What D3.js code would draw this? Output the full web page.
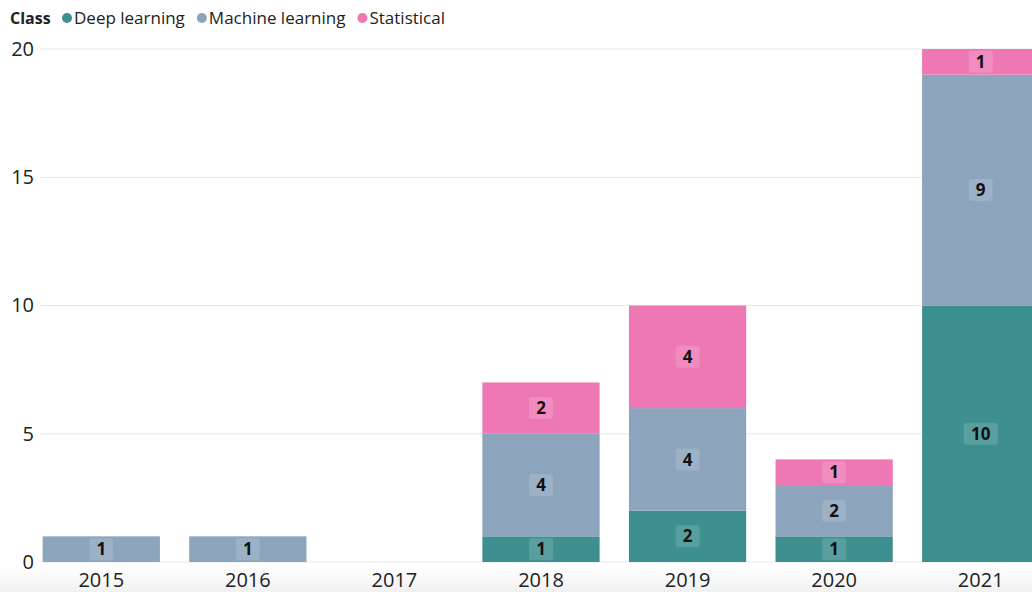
<!DOCTYPE html>
<html>
<head>
<meta charset="utf-8">
<style>
  body { margin: 0; background: #fff; }
  svg { display: block; font-family: "Open Sans", "Noto Sans", sans-serif; }
</style>
</head>
<body>
<div id="chart"></div>
<script src="https://cdn.jsdelivr.net/npm/d3@7"></script>
<script>
var years = ['2015', '2016', '2017', '2018', '2019', '2020', '2021'];
var classes = ['Deep learning', 'Machine learning', 'Statistical'];
var deep = [0, 0, 0, 1, 2, 1, 10];
var machine = [1, 1, 0, 4, 4, 2, 9];
var statistical = [0, 0, 0, 2, 4, 1, 1];
var yTicks = [0, 5, 10, 15, 20];

var width = 1032, height = 592;

var clr = d3.scaleOrdinal()
    .domain(classes)
    .range(['#3e8f8f', '#8ca4bc', '#ee78b4']);

var rows = years.map(function(y, i) {
    return { year: y, 'Deep learning': deep[i], 'Machine learning': machine[i], 'Statistical': statistical[i] };
});
var stacked = d3.stack().keys(classes)(rows);

var svg = d3.select('#chart').append('svg')
    .attr('width', width)
    .attr('height', height);

// faint shading under the axis
var grad = svg.append('defs').append('linearGradient')
    .attr('id', 'shade').attr('x1', 0).attr('y1', 0).attr('x2', 0).attr('y2', 1);
grad.append('stop').attr('offset', 0).attr('stop-color', '#fff');
grad.append('stop').attr('offset', 1).attr('stop-color', '#f1f1f1');
svg.append('rect').attr('x', 0).attr('y', 566).attr('width', width).attr('height', 26)
    .attr('fill', 'url(#shade)');

var x = d3.scaleBand()
    .domain(years)
    .range([28, 1054])
    .paddingInner(0.2)
    .paddingOuter(0.1);

var y = d3.scaleLinear()
    .domain([0, 20])
    .range([562, 49]);

// gridlines
svg.append('g').selectAll('line')
    .data(yTicks)
    .enter().append('line')
    .attr('x1', 40).attr('x2', width)
    .attr('y1', function(d) { return y(d); })
    .attr('y2', function(d) { return y(d); })
    .attr('stroke', '#e8e8e8')
    .attr('stroke-width', 1);

// y axis labels
var yAxis = svg.append('g')
    .attr('transform', 'translate(34,0)')
    .call(d3.axisLeft(y).tickValues(yTicks).tickSize(0).tickPadding(0));
yAxis.select('.domain').remove();
yAxis.selectAll('text')
    .attr('font-size', 20)
    .attr('fill', '#222')
    .attr('font-family', '"Open Sans", "Noto Sans", sans-serif');

// x axis labels
var xAxis = svg.append('g')
    .attr('transform', 'translate(0,568)')
    .call(d3.axisBottom(x).tickSize(0).tickPadding(0));
xAxis.select('.domain').remove();
xAxis.selectAll('text')
    .attr('font-size', 20)
    .attr('fill', '#222')
    .attr('dy', '0.95em')
    .attr('font-family', '"Open Sans", "Noto Sans", sans-serif');

// bars
var layer = svg.append('g').selectAll('g')
    .data(stacked)
    .enter().append('g')
    .attr('fill', function(d) { return clr(d.key); });

layer.selectAll('rect')
    .data(function(d) { return d; })
    .enter().append('rect')
    .attr('x', function(d) { return x(d.data.year); })
    .attr('y', function(d) { return y(d[1]); })
    .attr('width', x.bandwidth())
    .attr('height', function(d) { return y(d[0]) - y(d[1]); });

// data labels
var labels = [];
stacked.forEach(function(s) {
    s.forEach(function(d) {
        var v = d[1] - d[0];
        if (v > 0) labels.push({ year: d.data.year, mid: (d[0] + d[1]) / 2, v: v });
    });
});

var lab = svg.append('g').selectAll('g')
    .data(labels)
    .enter().append('g')
    .attr('transform', function(d) {
        return 'translate(' + (x(d.year) + x.bandwidth() / 2) + ',' + y(d.mid) + ')';
    });

lab.append('rect')
    .attr('x', function(d) { return d.v >= 10 ? -17 : -12; })
    .attr('y', -11)
    .attr('width', function(d) { return d.v >= 10 ? 34 : 24; })
    .attr('height', 22)
    .attr('rx', 3)
    .attr('fill', '#fff')
    .attr('fill-opacity', 0.15);

lab.append('text')
    .attr('text-anchor', 'middle')
    .attr('dy', '0.36em')
    .attr('font-size', 17)
    .attr('font-weight', 'bold')
    .attr('fill', '#111')
    .text(function(d) { return d.v; });

// legend
var legend = svg.append('g').attr('transform', 'translate(10,18)');
legend.append('text')
    .attr('dy', '0.35em')
    .attr('font-size', 16)
    .attr('font-weight', 'bold')
    .attr('fill', '#222')
    .text('Class');

var lx = 62;
classes.forEach(function(c) {
    legend.append('circle')
        .attr('cx', lx - 5).attr('cy', 0).attr('r', 5)
        .attr('fill', clr(c));
    var t = legend.append('text')
        .attr('x', lx + 2)
        .attr('dy', '0.35em')
        .attr('font-size', 17)
        .attr('fill', '#222')
        .text(c);
    lx += 2 + t.node().getComputedTextLength() + 22;
});
</script>
</body>
</html>
